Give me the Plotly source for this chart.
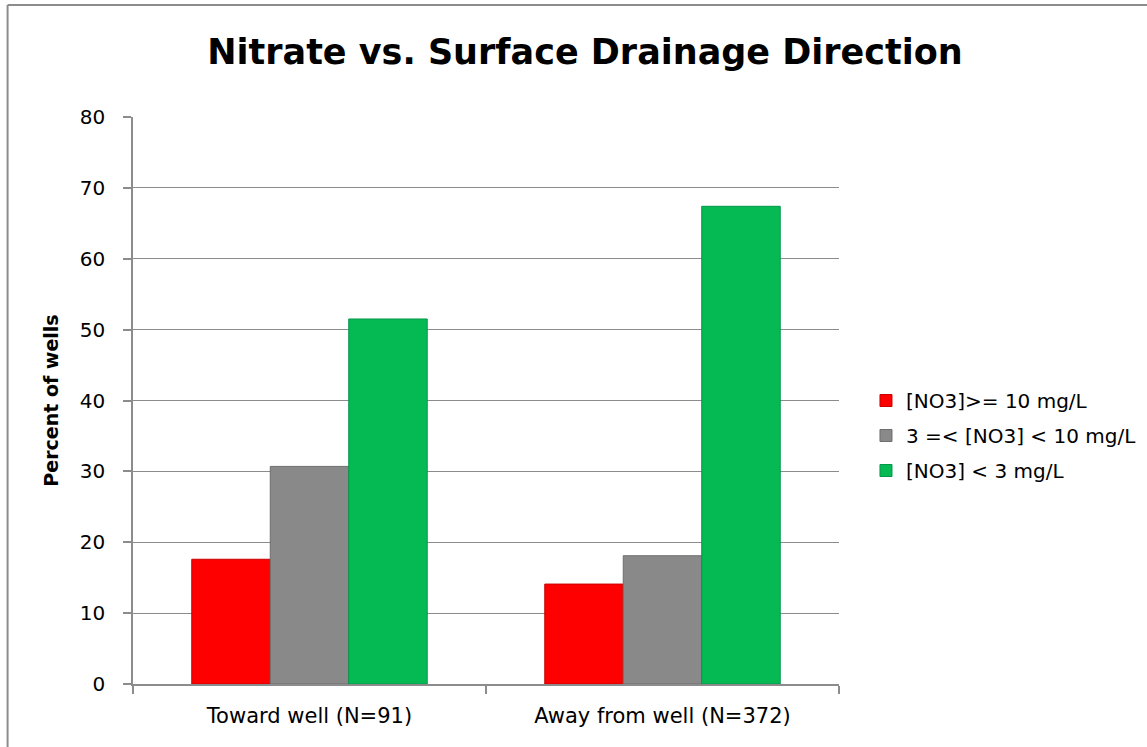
import plotly.graph_objects as go

categories = ["Toward well (N=91)", "Away from well (N=372)"]
series_names = ["[NO3]>= 10 mg/L", "3 =< [NO3] < 10 mg/L", "[NO3] < 3 mg/L"]
high_vals = [17.6, 14.1]
mid_vals = [30.7, 18.1]
low_vals = [51.5, 67.4]
colors = ["#FF0000", "#898989", "#06BA53"]
line_colors = ["#C80000", "#6E6E6E", "#04964A"]

FONT = "DejaVu Sans, sans-serif"

fig = go.Figure()
for i, (name, vals, c, lc) in enumerate(zip(series_names, [high_vals, mid_vals, low_vals], colors, line_colors)):
    fig.add_trace(go.Bar(
        x=categories, y=vals, name=name, legendgroup=f"g{i}",
        marker=dict(color=c, line=dict(color=lc, width=1)),
    ))

W, H = 1147, 747
ml, mr, mt, mb = 132.5, 308, 117, 63
pw = W - ml - mr
ph = H - mt - mb

fig.update_layout(
    width=W, height=H,
    margin=dict(l=ml, r=mr, t=mt, b=mb, autoexpand=False),
    paper_bgcolor="white", plot_bgcolor="white",
    barmode="group", bargap=0.333, bargroupgap=0,
    title=dict(text="<b>Nitrate vs. Surface Drainage Direction</b>",
               x=585 / W, xanchor="center", y=1 - 52 / H, yanchor="middle",
               font=dict(family=FONT, size=35, color="black")),
    font=dict(family=FONT, color="black"),
    legend=dict(x=(866 - ml) / pw, xanchor="left", y=(684 - 381) / ph,
                yanchor="top", font=dict(family=FONT, size=20, color="black"),
                itemwidth=30, traceorder="grouped", tracegroupgap=6,
                bgcolor="rgba(0,0,0,0)"),
    showlegend=True,
)

fig.update_xaxes(
    showline=True, linecolor="#8C8C8C", linewidth=1.5,
    ticks="outside", ticklen=8, tickcolor="#8C8C8C", tickwidth=1.5,
    tickson="boundaries", showgrid=False, ticklabelstandoff=12,
    tickfont=dict(family=FONT, size=21, color="black"),
)
fig.update_yaxes(
    range=[0, 80], dtick=10, tick0=0,
    showline=True, linecolor="#8C8C8C", linewidth=1.5,
    ticks="outside", ticklen=8, tickcolor="#8C8C8C", tickwidth=1.5,
    showgrid=True, gridcolor="#8C8C8C", gridwidth=1.3,
    zeroline=False, ticklabelstandoff=14,
    tickfont=dict(family=FONT, size=20, color="black"),
    title=dict(text="<b>Percent of wells</b>", font=dict(family=FONT, size=19, color="black"),
               standoff=16),
)

# outer chart border (left and top edges visible)
bx = (7 - ml) / pw
by = (H - mb - 5) / ph
fig.add_shape(type="line", xref="paper", yref="paper", x0=bx, x1=bx, y0=by, y1=-0.3,
              line=dict(color="#8C8C8C", width=2))
fig.add_shape(type="line", xref="paper", yref="paper", x0=bx, x1=2.0, y0=by, y1=by,
              line=dict(color="#8C8C8C", width=2))

fig.write_html("out.html", config={"displayModeBar": False},
               post_script="document.body.style.margin='0';document.body.style.overflow='hidden';")
